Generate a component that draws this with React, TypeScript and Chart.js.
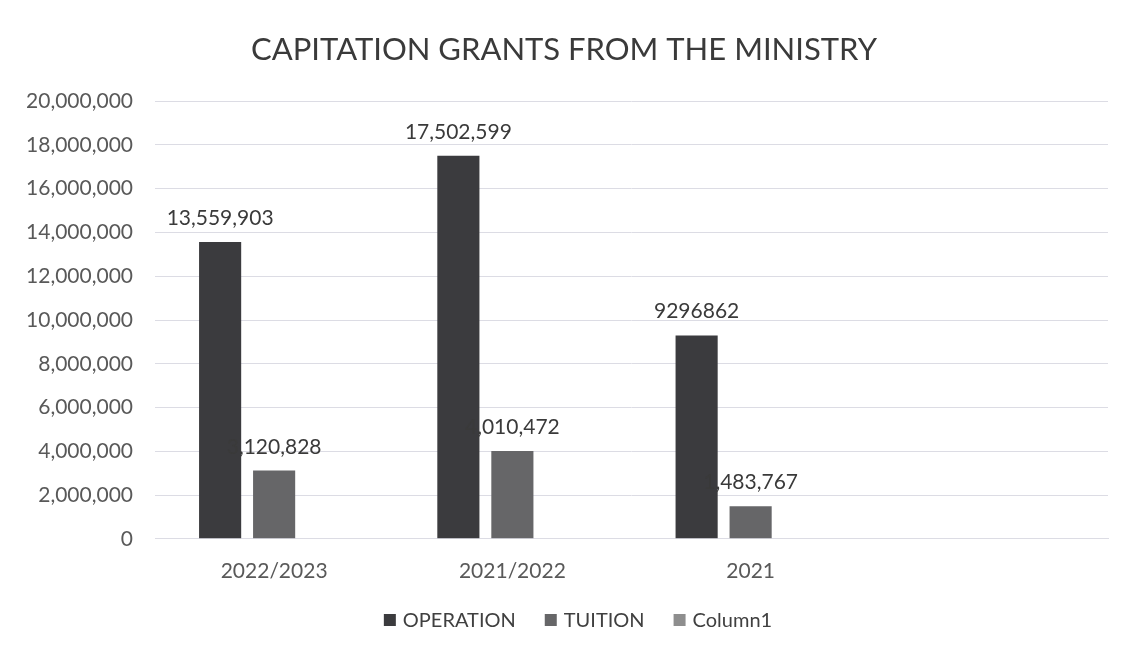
import React, { useEffect, useRef } from "react";
import { Chart, registerables } from "chart.js";

Chart.register(...registerables);

const categories = ["2022/2023", "2021/2022", "2021", ""];
const operationValues = [13559903, 17502599, 9296862, null];
const tuitionValues = [3120828, 4010472, 1483767, null];
const column1Values = [null, null, null, null];
const operationLabels = ["13,559,903", "17,502,599", "9296862", ""];
const tuitionLabels = ["3,120,828", "4,010,472", "1,483,767", ""];
const column1Labels = ["", "", "", ""];
const FONT = "Lato, 'Liberation Sans', sans-serif";

const labelSets = [operationLabels, tuitionLabels, column1Labels];

const dataLabelPlugin = {
  id: "dataLabels",
  afterDatasetsDraw(chart: any) {
    const ctx = chart.ctx;
    ctx.save();
    ctx.font = `21px ${FONT}`;
    ctx.fillStyle = "#3a3a3a";
    ctx.textAlign = "center";
    ctx.textBaseline = "alphabetic";
    chart.data.datasets.forEach((ds: any, di: number) => {
      const meta = chart.getDatasetMeta(di);
      meta.data.forEach((el: any, i: number) => {
        const v = ds.data[i];
        const txt = labelSets[di][i];
        if (v == null || !txt) return;
        ctx.fillText(txt, el.x, el.y - 17);
      });
    });
    ctx.restore();
  },
};

const legendPlugin = {
  id: "customLegend",
  afterDraw(chart: any) {
    const ctx = chart.ctx;
    const box = 12;
    const gap = 7;
    const spacing = 29;
    ctx.save();
    ctx.font = `20px ${FONT}`;
    const items = chart.data.datasets.map((ds: any) => ({
      text: ds.label,
      color: ds.backgroundColor,
      w: ctx.measureText(ds.label).width,
    }));
    const total =
      items.reduce((a: number, it: any) => a + box + gap + it.w, 0) + spacing * (items.length - 1);
    let x = chart.width / 2 + 11 - total / 2;
    const cy = chart.height - 34;
    ctx.textBaseline = "middle";
    ctx.textAlign = "left";
    items.forEach((it: any) => {
      ctx.fillStyle = it.color;
      ctx.fillRect(x, cy - box / 2, box, box);
      ctx.fillStyle = "#404040";
      ctx.fillText(it.text, x + box + gap, cy + 1);
      x += box + gap + it.w + spacing;
    });
    ctx.restore();
  },
};

export default function App() {
  const ref = useRef<HTMLCanvasElement | null>(null);
  useEffect(() => {
    document.body.style.margin = "0";
    document.body.style.background = "#ffffff";
    if (!ref.current) return;
    const chart = new Chart(ref.current, {
      type: "bar",
      data: {
        labels: categories,
        datasets: [
          { label: "OPERATION", data: operationValues, backgroundColor: "#3b3b3e" },
          { label: "TUITION", data: tuitionValues, backgroundColor: "#666668" },
          { label: "Column1", data: column1Values, backgroundColor: "#8e8e8e" },
        ],
      },
      options: {
        responsive: false,
        animation: false,
        maintainAspectRatio: false,
        layout: { padding: { left: 20, right: 26, top: 14, bottom: 58 } },
        datasets: {
          bar: { categoryPercentage: 0.68, barPercentage: 0.78 },
        },
        plugins: {
          title: {
            display: true,
            text: "CAPITATION GRANTS FROM THE MINISTRY",
            color: "#3a3a3a",
            font: { family: FONT, size: 31, weight: "normal" },
            padding: { top: 17, bottom: 33 },
          },
          legend: { display: false },
          tooltip: { enabled: false },
        },
        scales: {
          y: {
            min: 0,
            max: 20000000,
            ticks: {
              stepSize: 2000000,
              color: "#595959",
              font: { family: FONT, size: 21 },
              padding: 22,
              callback: (v: any) => Number(v).toLocaleString("en-US"),
            },
            grid: { color: "#dcdce4", drawTicks: false },
            border: { display: false },
            afterFit: (s: any) => {
              s.width = 135;
            },
          },
          x: {
            ticks: {
              color: "#595959",
              font: { family: FONT, size: 21 },
              padding: 12,
            },
            grid: { display: false },
            border: { color: "#dcdce4" },
          },
        },
      },
      plugins: [dataLabelPlugin, legendPlugin],
    });
    return () => chart.destroy();
  }, []);
  return (
    <div style={{ width: 1134, height: 654 }}>
      <canvas ref={ref} width={1134} height={654} style={{ width: 1134, height: 654 }} />
    </div>
  );
}
